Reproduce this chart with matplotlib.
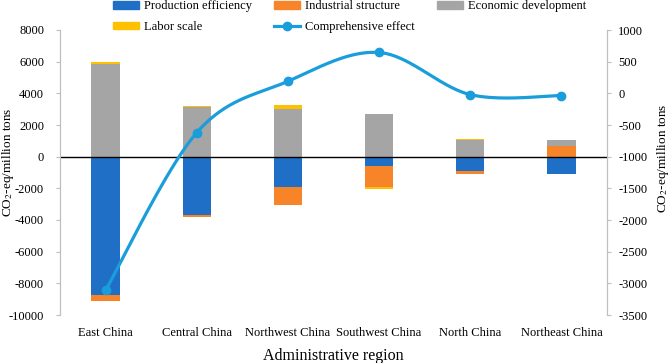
#!/usr/bin/env python3
"""Stacked decomposition bars by region, with comprehensive effect on a second axis."""

import numpy as np
import matplotlib
matplotlib.use('Agg')
import matplotlib.pyplot as plt
from matplotlib.patches import Patch
from matplotlib.lines import Line2D

plt.rcParams['font.family'] = ['Liberation Serif', 'DejaVu Serif']
plt.rcParams['mathtext.fontset'] = 'stix'
plt.rcParams['axes.unicode_minus'] = False

# Data (CO2-eq, million tons)
regions = ['East China', 'Central China', 'Northwest China',
           'Southwest China', 'North China', 'Northeast China']
production_eff = [-8720, -3710, -1900, -570, -880, -1100]
industrial = [-380, -100, -1150, -1330, -240, 650]
economic = [5850, 3110, 3000, 2670, 1080, 400]
labor = [130, 80, 250, -140, 30, 20]
comprehensive = [-3110, -620, 190, 645, -20, -35]

series = [
    ('Production efficiency', production_eff, '#1f6fc6'),
    ('Industrial structure', industrial, '#f8842a'),
    ('Economic development', economic, '#a5a5a5'),
    ('Labor scale', labor, '#ffc000'),
]
line_color = '#1a9ddb'


def smooth(x, y, n=40):
    """Excel-like smoothed line (Catmull-Rom style cubic Bezier)."""
    x = np.asarray(x, float)
    y = np.asarray(y, float)
    px = np.concatenate([[x[0]], x, [x[-1]]])
    py = np.concatenate([[y[0]], y, [y[-1]]])
    t = np.linspace(0, 1, n)[:, None]
    xs, ys = [], []
    for i in range(1, len(x)):
        p0 = np.array([px[i], py[i]])
        p3 = np.array([px[i + 1], py[i + 1]])
        p1 = p0 + (p3 - np.array([px[i - 1], py[i - 1]])) / 6
        p2 = p3 - (np.array([px[i + 2], py[i + 2]]) - p0) / 6
        pts = ((1 - t) ** 3) * p0 + 3 * ((1 - t) ** 2) * t * p1 \
            + 3 * (1 - t) * t ** 2 * p2 + t ** 3 * p3
        xs.append(pts[:, 0])
        ys.append(pts[:, 1])
    return np.concatenate(xs), np.concatenate(ys)


fig = plt.figure(figsize=(6.71, 3.63), dpi=100)
ax = fig.add_axes([60 / 671, 1 - 315 / 363, (607 - 60) / 671, 285 / 363])
ax2 = ax.twinx()

x = np.arange(len(regions))
width = 0.31
pos_bottom = np.zeros(len(regions))
neg_bottom = np.zeros(len(regions))
for name, vals, color in series:
    vals = np.asarray(vals, float)
    bottoms = np.where(vals >= 0, pos_bottom, neg_bottom)
    ax.bar(x, vals, width, bottom=bottoms, color=color, zorder=2)
    pos_bottom += np.where(vals >= 0, vals, 0)
    neg_bottom += np.where(vals < 0, vals, 0)

ax.axhline(0, color='black', lw=1, zorder=3)

sx, sy = smooth(x, comprehensive)
ax2.plot(sx, sy, color=line_color, lw=2.3, zorder=4, solid_capstyle='round')
ax2.plot(x, comprehensive, 'o', color=line_color, ms=6, zorder=5)

ax.set_xlim(-0.5, len(regions) - 0.5)
ax.set_ylim(-10000, 8000)
ax.set_yticks(np.arange(-10000, 8001, 2000))
ax2.set_ylim(-3500, 1000)
ax2.set_yticks(np.arange(-3500, 1001, 500))

ax.set_xticks(x)
ax.set_xticklabels(regions, fontsize=9)
ax.tick_params(axis='x', length=0, pad=9)
ax.tick_params(axis='y', labelsize=9, length=3, color='#bfbfbf', pad=8.5)
ax2.tick_params(axis='y', labelsize=9, length=3, color='#bfbfbf', pad=5)

for a in (ax, ax2):
    a.spines['top'].set_visible(False)
    a.spines['bottom'].set_visible(False)
    a.spines['left'].set_color('#bfbfbf')
    a.spines['right'].set_color('#bfbfbf')

ax.set_xlabel('Administrative region', fontsize=11.5, labelpad=6)
ax.set_ylabel(r'CO$_2$-eq/million tons', fontsize=9.5)
ax2.set_ylabel(r'CO$_2$-eq/million tons', fontsize=9.5, rotation=90)
ax.yaxis.set_label_coords(-0.095, 0.537)
ax2.yaxis.set_label_coords(1.102, 0.551)
for lab in (ax.yaxis.label, ax2.yaxis.label):
    lab.set_va('center')
    lab.set_ha('center')

# legend: two rows, three columns
h = {name: Patch(color=color) for name, _, color in series}
h['Comprehensive effect'] = Line2D([], [], color=line_color, lw=2.3,
                                   marker='o', ms=6)
order = ['Production efficiency', 'Labor scale', 'Industrial structure',
         'Comprehensive effect', 'Economic development']
fig.legend([h[k] for k in order], order, ncol=3, loc='upper left',
           bbox_to_anchor=(113 / 671, 0.999), frameon=False, fontsize=9,
           handlelength=2.1, handleheight=0.55, columnspacing=1.75,
           labelspacing=0.7, handletextpad=0.4, borderpad=0,
           borderaxespad=0)

fig.savefig('out.png', dpi=100)
